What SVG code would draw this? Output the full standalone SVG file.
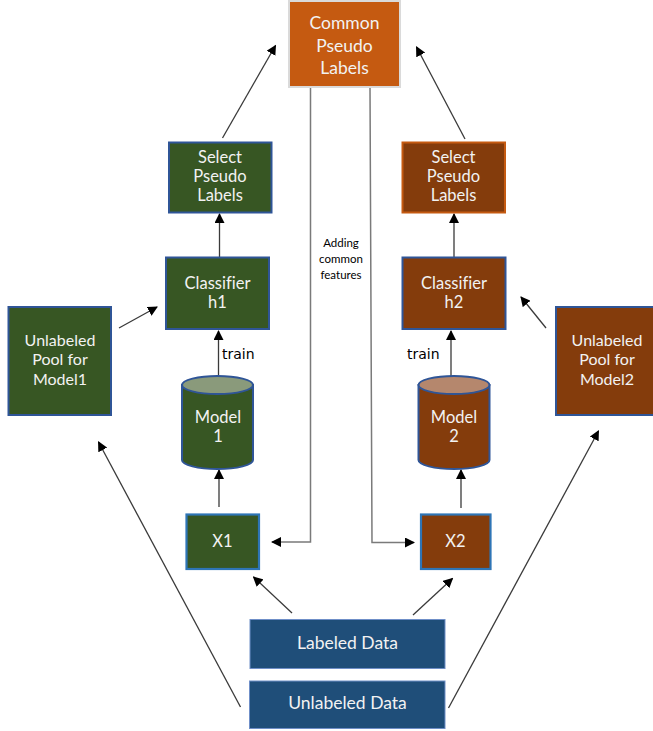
<svg xmlns="http://www.w3.org/2000/svg" width="653" height="731" viewBox="0 0 653 731">
  <defs>
    <marker id="arrow" viewBox="0 0 10 10" refX="9" refY="5" markerWidth="10" markerHeight="10" markerUnits="userSpaceOnUse" orient="auto">
      <path d="M0,0 L10,5 L0,10 z" fill="#000"/>
    </marker>
    <style>
      .lbl { font-family: Lato, "Liberation Sans", sans-serif; font-size: 16.5px; fill: #f2f2f2; text-anchor: middle; font-variant-ligatures: none; }
      .big { font-size: 17.5px; }
      .pool { font-size: 16px; }
      .green { fill: #375623; stroke: #2F5597; stroke-width: 2; }
      .brown { fill: #843C0C; stroke: #2F5597; stroke-width: 2; }
      .brown-o { fill: #843C0C; stroke: #C55A11; stroke-width: 2; }
      .x-green { fill: #375623; stroke: #2E75B6; stroke-width: 2.2; }
      .x-brown { fill: #843C0C; stroke: #2E75B6; stroke-width: 2.2; }
      .data { fill: #1F4E79; stroke: #6F8FC8; stroke-width: 1; }
      .edge { fill: none; stroke: #3a3a3a; stroke-width: 1.3; }
      .feed { fill: none; stroke: #7a7a7a; stroke-width: 1.5; }
      .note { font-family: Lato, "Liberation Sans", sans-serif; font-size: 11.5px; fill: #000; text-anchor: middle; }
      .train { font-family: "DejaVu Sans", "Liberation Sans", sans-serif; font-size: 14px; fill: #000; }
    </style>
  </defs>

  <rect width="653" height="731" fill="#fff"/>

  <!-- connectors -->
  <g id="connectors">
    <line class="edge" x1="222.5" y1="138" x2="275.5" y2="45.5" marker-end="url(#arrow)"/>
    <line class="edge" x1="465" y1="139" x2="416.5" y2="47" marker-end="url(#arrow)"/>
    <line class="edge" x1="219.5" y1="257" x2="219.5" y2="214" marker-end="url(#arrow)"/>
    <line class="edge" x1="454" y1="257" x2="454" y2="214" marker-end="url(#arrow)"/>
    <line class="edge" x1="218.5" y1="376" x2="218.5" y2="331" marker-end="url(#arrow)"/>
    <line class="edge" x1="451" y1="376" x2="451" y2="331" marker-end="url(#arrow)"/>
    <line class="edge" x1="219" y1="507" x2="219" y2="470" marker-end="url(#arrow)"/>
    <line class="edge" x1="461" y1="508" x2="461" y2="470" marker-end="url(#arrow)"/>
    <line class="edge" x1="119" y1="328" x2="157" y2="307" marker-end="url(#arrow)"/>
    <line class="edge" x1="546" y1="328" x2="521" y2="297" marker-end="url(#arrow)"/>
    <polyline class="feed" points="310.5,88 310.5,542 272,542" marker-end="url(#arrow)"/>
    <polyline class="feed" points="370,88 372,542.5 414,542.5" marker-end="url(#arrow)"/>
    <line class="edge" x1="240.5" y1="707" x2="98.5" y2="442" marker-end="url(#arrow)"/>
    <line class="edge" x1="448.5" y1="708" x2="598.5" y2="431" marker-end="url(#arrow)"/>
    <line class="edge" x1="292" y1="613" x2="253.5" y2="577" marker-end="url(#arrow)"/>
    <line class="edge" x1="413" y1="615" x2="452.5" y2="578.5" marker-end="url(#arrow)"/>
    <text class="note" x="341" y="247">Adding</text>
    <text class="note" x="341" y="263">common</text>
    <text class="note" x="341" y="279">features</text>
    <text class="train" x="222" y="359">train</text>
    <text class="train" x="407" y="359">train</text>
  </g>

  <g id="common-pseudo-labels">
    <rect x="289" y="1" width="111" height="86" fill="#C55A11" stroke="#DADADA" stroke-width="2"/>
    <text class="lbl big" x="344.5" y="29">Common</text>
    <text class="lbl big" x="344.5" y="51.5">Pseudo</text>
    <text class="lbl big" x="344.5" y="74">Labels</text>
  </g>

  <g id="select-pseudo-1">
    <rect class="green" x="169" y="142.5" width="102.5" height="70"/>
    <text class="lbl" x="220" y="163">Select</text>
    <text class="lbl" x="220" y="182">Pseudo</text>
    <text class="lbl" x="220" y="201">Labels</text>
  </g>

  <g id="select-pseudo-2">
    <rect class="brown-o" x="402.5" y="142.5" width="102.5" height="70"/>
    <text class="lbl" x="453.5" y="163">Select</text>
    <text class="lbl" x="453.5" y="182">Pseudo</text>
    <text class="lbl" x="453.5" y="201">Labels</text>
  </g>

  <g id="classifier-h1">
    <rect class="green" x="166" y="257.5" width="103" height="71.5"/>
    <text class="lbl" x="217.5" y="289">Classifier</text>
    <text class="lbl" x="217.5" y="308">h1</text>
  </g>

  <g id="classifier-h2">
    <rect class="brown" x="402.5" y="257.5" width="103" height="71.5"/>
    <text class="lbl" x="454" y="289">Classifier</text>
    <text class="lbl" x="454" y="308">h2</text>
  </g>

  <g id="pool-model1">
    <rect class="green" x="8.5" y="307" width="102.5" height="108"/>
    <text class="lbl pool" x="60" y="346">Unlabeled</text>
    <text class="lbl pool" x="60" y="365">Pool for</text>
    <text class="lbl pool" x="60" y="384.5">Model1</text>
  </g>

  <g id="pool-model2">
    <rect class="brown" x="556" y="307" width="103" height="108"/>
    <text class="lbl pool" x="607" y="346">Unlabeled</text>
    <text class="lbl pool" x="607" y="365">Pool for</text>
    <text class="lbl pool" x="607" y="384.5">Model2</text>
  </g>

  <g id="model1">
    <path d="M182,385 L182,460 A35.5,9 0 0 0 253,460 L253,385 Z" fill="#375623" stroke="#2F5597" stroke-width="2"/>
    <ellipse cx="217.5" cy="385" rx="35.5" ry="9" fill="#8A9A7B" stroke="#2F5597" stroke-width="2"/>
    <text class="lbl" x="218" y="423">Model</text>
    <text class="lbl" x="218" y="442">1</text>
  </g>

  <g id="model2">
    <path d="M418.5,385 L418.5,460 A35.5,9 0 0 0 489.5,460 L489.5,385 Z" fill="#843C0C" stroke="#2F5597" stroke-width="2"/>
    <ellipse cx="454" cy="385" rx="35.5" ry="9" fill="#B5876D" stroke="#2F5597" stroke-width="2"/>
    <text class="lbl" x="454" y="423">Model</text>
    <text class="lbl" x="454" y="442">2</text>
  </g>

  <g id="x1">
    <rect class="x-green" x="186.5" y="514.5" width="72.5" height="54.5"/>
    <text class="lbl" x="222.5" y="547">X1</text>
  </g>

  <g id="x2">
    <rect class="x-brown" x="421" y="514.5" width="69.5" height="54.5"/>
    <text class="lbl" x="455.5" y="547">X2</text>
  </g>

  <g id="labeled-data">
    <rect class="data" x="250" y="619.5" width="195" height="49"/>
    <text class="lbl big" x="347.5" y="649">Labeled Data</text>
  </g>

  <g id="unlabeled-data">
    <rect class="data" x="249.5" y="681" width="195.5" height="47.5"/>
    <text class="lbl big" x="347.5" y="709">Unlabeled Data</text>
  </g>
</svg>
